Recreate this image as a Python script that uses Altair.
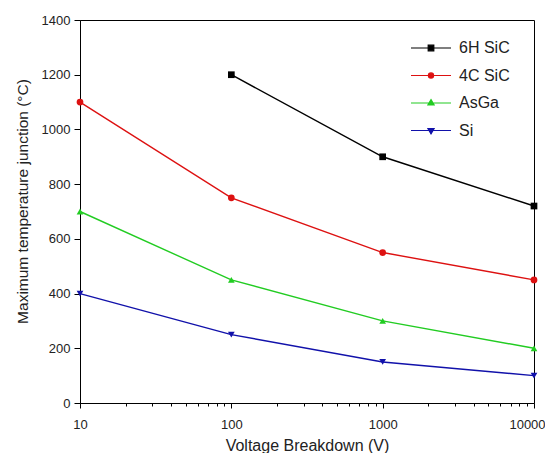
import altair as alt
import pandas as pd

series_names = ["6H SiC", "4C SiC", "AsGa", "Si"]
colors = ["#000000", "#dd1111", "#22cc22", "#1111aa"]
shapes = ["square", "circle", "triangle-up", "triangle-down"]

v_6h = [100, 1000, 10000]
t_6h = [1200, 900, 720]
v_4c = [10, 100, 1000, 10000]
t_4c = [1100, 750, 550, 450]
v_asga = [10, 100, 1000, 10000]
t_asga = [700, 450, 300, 200]
v_si = [10, 100, 1000, 10000]
t_si = [400, 250, 150, 100]

x_ticks = [10, 20, 30, 40, 50, 60, 70, 80, 90,
           100, 200, 300, 400, 500, 600, 700, 800, 900,
           1000, 2000, 3000, 4000, 5000, 6000, 7000, 8000, 9000, 10000]
y_ticks = [0, 100, 200, 300, 400, 500, 600, 700, 800, 900, 1000, 1100, 1200, 1300, 1400]

rows = []
for name, vs, ts in [("6H SiC", v_6h, t_6h), ("4C SiC", v_4c, t_4c),
                     ("AsGa", v_asga, t_asga), ("Si", v_si, t_si)]:
    for v, t in zip(vs, ts):
        rows.append({"Series": name, "V": v, "T": t})
df = pd.DataFrame(rows)

FONT = "Liberation Sans"
TXT = "#222222"

xscale = alt.Scale(type="log", domain=[10, 10000], nice=False)
yscale = alt.Scale(domain=[0, 1400], nice=False, zero=True)
# data-driven domain (sorted in series order) so the hidden color legend is not
# merged with the visible legend below
color_scale = alt.Scale(range=colors)

x_major_test = "abs(log(datum.value)/LN10 - round(log(datum.value)/LN10)) < 0.000001"
y_major_test = "datum.value % 200 === 0"

x_axis = alt.Axis(values=x_ticks, format="d", title="Voltage Breakdown (V)",
                  labelExpr="(" + x_major_test + ") ? datum.label : ''",
                  tickSize={"condition": {"test": x_major_test, "value": 5}, "value": 3},
                  labelOffset={"condition": {"test": "datum.value >= 9999", "value": -7}, "value": 0},
                  labelPadding=10, titlePadding=6, grid=False,
                  domainColor="black", tickColor="black", labelFontSize=13,
                  titleFontSize=16, titleFontWeight="normal", labelColor=TXT,
                  titleColor=TXT, labelFont=FONT, titleFont=FONT, labelFlush=False,
                  labelOverlap=False)
y_axis = alt.Axis(values=y_ticks, format="d", title="Maximum temperature junction (°C)",
                  labelExpr="(" + y_major_test + ") ? datum.label : ''",
                  tickSize={"condition": {"test": y_major_test, "value": 6}, "value": 3},
                  labelPadding=4, titlePadding=11, grid=False, titleY=181,
                  domainColor="black", tickColor="black", labelFontSize=13,
                  titleFontSize=15.5, titleFontWeight="normal", labelColor=TXT,
                  titleColor=TXT, labelFont=FONT, titleFont=FONT, labelOverlap=False)

base = alt.Chart(df)

lines = base.mark_line(strokeWidth=1.4).encode(
    x=alt.X("V:Q", scale=xscale, axis=x_axis),
    y=alt.Y("T:Q", scale=yscale, axis=y_axis),
    color=alt.Color("Series:N", sort=series_names, scale=color_scale, legend=None),
    detail="Series:N",
)

point_layers = []
for name, shp in zip(series_names, shapes):
    point_layers.append(
        base.transform_filter(alt.datum.Series == name)
        .mark_point(filled=True, size=45, opacity=1, shape=shp)
        .encode(
            x=alt.X("V:Q", scale=xscale),
            y=alt.Y("T:Q", scale=yscale),
            color=alt.Color("Series:N", sort=series_names, scale=color_scale, legend=None),
        )
    )

# legend layer (invisible marks, only its legend is shown)
leg_paths = [
    "M-2,0H2M-0.28,-0.28H0.28V0.28H-0.28Z",
    "M-2,0H2M0.26,0A0.26,0.26 0 1,1 -0.26,0A0.26,0.26 0 1,1 0.26,0Z",
    "M-2,0H2M0,-0.34L0.31,0.2L-0.31,0.2Z",
    "M-2,0H2M0,0.34L0.31,-0.2L-0.31,-0.2Z",
]


def make_legend():
    return alt.Legend(title=None, orient="none", legendX=340, legendY=17,
                      symbolSize=400, symbolStrokeWidth=1.2, symbolOpacity=1,
                      labelFont=FONT, labelFontSize=16, labelColor=TXT,
                      rowPadding=8.5, labelOffset=17, padding=0)


legend_layer = base.mark_point(strokeWidth=1.2, opacity=0).encode(
    x=alt.X("V:Q", scale=xscale),
    y=alt.Y("T:Q", scale=yscale),
    fill=alt.Fill("Series:N", scale=alt.Scale(domain=series_names, range=colors),
                  legend=make_legend()),
    stroke=alt.Stroke("Series:N", scale=alt.Scale(domain=series_names, range=colors),
                      legend=make_legend()),
    shape=alt.Shape("Series:N", scale=alt.Scale(domain=series_names, range=leg_paths),
                    legend=make_legend()),
)

chart = alt.layer(lines, *point_layers, legend_layer).properties(
    width=454, height=383,
    autosize=alt.AutoSizeParams(type="none"),
    padding={"left": 72, "top": 12, "right": 11, "bottom": 50},
).configure(background="white").configure_view(stroke="black", strokeWidth=1)

chart.save("out.html", embed_options={"renderer": "svg", "actions": False})
